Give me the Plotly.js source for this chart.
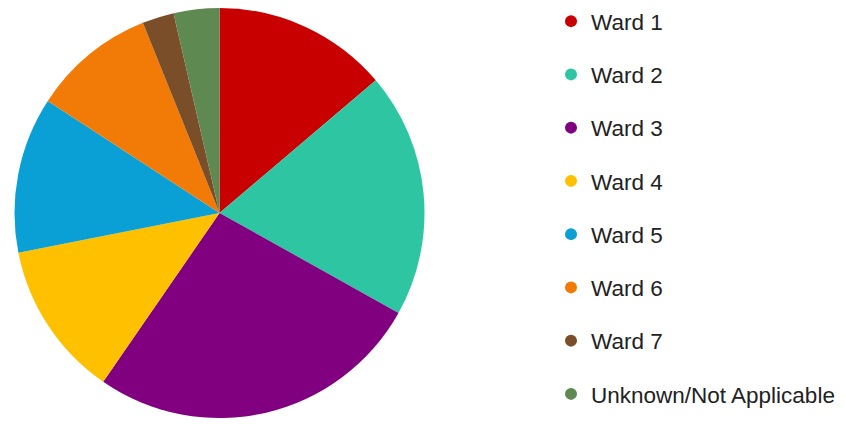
<!DOCTYPE html>
<html>
<head>
<meta charset="utf-8">
<script src="https://cdn.plot.ly/plotly-3.0.1.min.js"></script>
<style>html,body{margin:0;padding:0;background:#fff;}#chart{width:846px;height:424px;}</style>
</head>
<body>
<div id="chart"></div>
<script>
const labels = ["Ward 1", "Ward 2", "Ward 3", "Ward 4", "Ward 5", "Ward 6", "Ward 7", "Unknown/Not Applicable"];
const values = [13.8, 19.3, 26.5, 12.3, 12.3, 9.7, 2.5, 3.6];
const colors = ["#c80000", "#2ec6a2", "#800080", "#ffc000", "#0aa0d6", "#f27b08", "#7a4e28", "#5e8a52"];

const traces = [{
  type: "pie",
  labels: labels,
  values: values,
  sort: false,
  direction: "clockwise",
  rotation: 0,
  textinfo: "none",
  hoverinfo: "label+percent",
  showlegend: false,
  marker: {colors: colors, line: {width: 0}},
  domain: {x: [13/846, 426/846], y: [6/424, 416/424]}
}];
labels.forEach((l, i) => {
  traces.push({
    type: "scatter", mode: "markers", x: [null], y: [null],
    name: l, legendgroup: "g" + i, showlegend: true,
    marker: {color: colors[i], size: 12, symbol: "circle"},
    hoverinfo: "skip"
  });
});

const layout = {
  width: 846, height: 424,
  margin: {l: 0, r: 0, t: 0, b: 0},
  paper_bgcolor: "#fff", plot_bgcolor: "#fff",
  xaxis: {visible: false, domain: [0.99, 1]},
  yaxis: {visible: false, domain: [0.99, 1]},
  showlegend: true,
  legend: {
    x: 551/846, xanchor: "left", y: 1, yanchor: "top",
    traceorder: "grouped", tracegroupgap: 21,
    font: {family: "Liberation Sans, Arial, sans-serif", size: 22.5, color: "#222"},
    bgcolor: "rgba(0,0,0,0)", borderwidth: 0
  }
};
Plotly.newPlot("chart", traces, layout, {displayModeBar: false, staticPlot: true});
</script>
</body>
</html>
